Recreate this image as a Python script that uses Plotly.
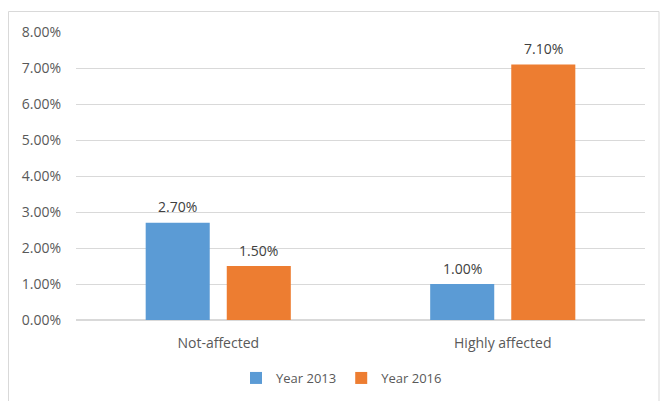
import plotly.graph_objects as go

categories = ["Not-affected", "Highly affected"]
year_2013 = [2.70, 1.00]
year_2016 = [1.50, 7.10]
series_names = ["Year 2013", "Year 2016"]
y_ticks = [0, 1, 2, 3, 4, 5, 6, 7, 8]
y_tick_labels = [f"{v:.2f}%" for v in y_ticks]

FONT = "Open Sans, Liberation Sans, sans-serif"
TEXT = "#595959"
FS = 14

W, H = 660, 401
L, R, T, B = 76, 15, 32, 81
pw, ph = W - L - R, H - T - B
BARGAP, GROUPGAP = 0.43, 0.21

def px_x(x):
    return (x - L) / pw

def px_y(y):
    return (H - B - y) / ph

fig = go.Figure()
series = [(series_names[0], year_2013, "#5B9BD5"),
          (series_names[1], year_2016, "#ED7D31")]
for name, vals, color in series:
    fig.add_trace(go.Bar(
        x=categories, y=vals, name=name,
        marker=dict(color=color, line=dict(width=0)),
        hoverinfo="x+y+name",
    ))

# value labels above each bar, shifted to the bar's slot in its group
cat_w = pw / len(categories)
slot = cat_w * (1 - BARGAP) / len(series)
annotations = []
for si, (name, vals, color) in enumerate(series):
    shift = (si - (len(series) - 1) / 2) * slot
    for ci, v in enumerate(vals):
        annotations.append(dict(
            x=ci, y=v, xref="x", yref="y", text=f"{v:.2f}%",
            showarrow=False, xshift=shift, yshift=16,
            font=dict(family=FONT, size=FS, color="#404040"),
        ))

fig.update_layout(
    width=W, height=H,
    margin=dict(l=L, r=R, t=T, b=B, autoexpand=False),
    paper_bgcolor="white", plot_bgcolor="white",
    barmode="group", bargap=BARGAP, bargroupgap=GROUPGAP,
    font=dict(family=FONT, size=FS, color=TEXT),
    showlegend=True,
    legend=dict(
        orientation="h", x=px_x(236), xanchor="left",
        y=px_y(378), yanchor="middle",
        font=dict(family=FONT, size=13, color=TEXT),
        itemsizing="constant", itemwidth=30, tracegroupgap=0,
    ),
    xaxis=dict(
        showgrid=False, showline=False, zeroline=False, automargin=False,
        ticks="", ticklabelstandoff=13,
        tickfont=dict(family=FONT, size=FS, color=TEXT),
    ),
    yaxis=dict(
        range=[0, 8], tickvals=y_ticks, ticktext=y_tick_labels,
        showgrid=True, gridcolor="#D9D9D9", gridwidth=1, automargin=False,
        zeroline=True, zerolinecolor="#D9D9D9", zerolinewidth=1.5,
        showline=False, ticks="", ticklen=0, ticklabelstandoff=14,
        tickfont=dict(family=FONT, size=FS, color=TEXT),
    ),
    annotations=annotations,
    shapes=[dict(
        type="rect", xref="paper", yref="paper",
        x0=px_x(8.5), x1=px_x(659), y0=px_y(410), y1=px_y(11.5),
        line=dict(color="#D9D9D9", width=1), fillcolor="rgba(0,0,0,0)",
        layer="below",
    )],
)

fig.write_html("out.html")
